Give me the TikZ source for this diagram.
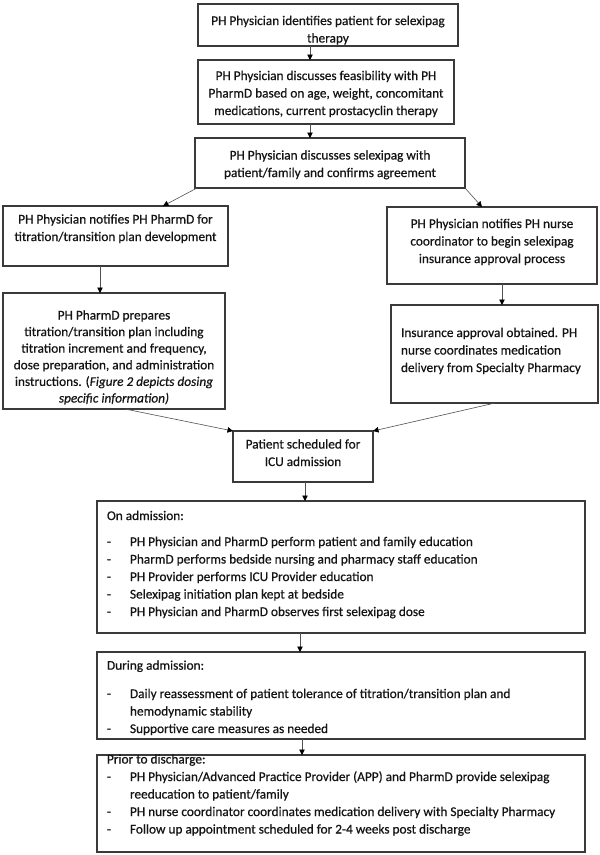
\documentclass[tikz,border=0pt]{standalone}
\usepackage{fontspec}
\setmainfont{Carlito}[FakeBold=0.6]
\usetikzlibrary{arrows.meta}
\definecolor{boxc}{HTML}{3A3A3A}
\definecolor{arrc}{HTML}{505050}
\definecolor{txtc}{HTML}{141414}
\begin{document}
\begin{tikzpicture}[x=1pt,y=-1pt,
  box/.style={draw=boxc, line width=1.1pt, rectangle, inner sep=0pt, outer sep=0pt, anchor=north west},
  txt/.style={inner sep=0pt, outer sep=0pt, text=txtc, font=\fontsize{13.3}{17.5}\selectfont},
  ctxt/.style={txt, align=center, anchor=base},
  ltxt/.style={txt, align=left, anchor=base west},
  arr/.style={draw=arrc, line width=0.6pt, -{Triangle[length=5.5pt,width=5.5pt,color=black]}}]
\useasboundingbox (0,0) rectangle (600,855);

% boxes
\node[box, minimum width=260pt, minimum height=42pt] (b1) at (198,4) {};
\node[box, minimum width=256pt, minimum height=64pt] (b2) at (198,60) {};
\node[box, minimum width=270pt, minimum height=50pt] (b3) at (195,138) {};
\node[box, minimum width=225pt, minimum height=60pt] (l4) at (3,206) {};
\node[box, minimum width=222pt, minimum height=116pt] (l5) at (3,293) {};
\node[box, minimum width=210pt, minimum height=77pt] (r4) at (387,207) {};
\node[box, minimum width=207pt, minimum height=98pt] (r5) at (391,305) {};
\node[box, minimum width=140pt, minimum height=51pt] (p) at (233,431) {};
\node[box, minimum width=488pt, minimum height=132pt] (a) at (97,501) {};
\node[box, minimum width=488pt, minimum height=87pt] (d) at (97,652) {};
\node[box, minimum width=488pt, minimum height=97pt] (pr) at (97,755) {};

% texts (anchored at the baseline of their last line)
\node[ctxt] (t1) at (328,42.5) {PH Physician identifies patient for selexipag\\therapy};
\node[ctxt] (t2) at (326,115) {PH Physician discusses feasibility with PH\\PharmD based on age, weight, concomitant\\medications, current prostacyclin therapy};
\node[ctxt] (t3) at (330,177) {PH Physician discusses selexipag with\\patient/family and confirms agreement};
\node[ctxt] (t4) at (115.5,241) {PH Physician notifies PH PharmD for\\titration/transition plan development};
\node[ctxt, font=\fontsize{13.3}{16.6}\selectfont] (t5) at (114,402.5) {PH PharmD prepares\\titration/transition plan including\\titration increment and frequency,\\dose preparation, and administration\\instructions. (\textit{Figure 2 depicts dosing}\\\textit{specific information)}};
\node[ctxt] (t6) at (492,263) {PH Physician notifies PH nurse\\coordinator to begin selexipag\\insurance approval process};
\node[ltxt] (t7) at (401,372) {Insurance approval obtained. PH\\nurse coordinates medication\\delivery from Specialty Pharmacy};
\node[ctxt] (t8) at (303,466) {Patient scheduled for\\ICU admission};
\node[ltxt] (t9) at (107,616) {On admission:\\[8.5pt]
\makebox[23pt][l]{-}PH Physician and PharmD perform patient and family education\\
\makebox[23pt][l]{-}PharmD performs bedside nursing and pharmacy staff education\\
\makebox[23pt][l]{-}PH Provider performs ICU Provider education\\
\makebox[23pt][l]{-}Selexipag initiation plan kept at bedside\\
\makebox[23pt][l]{-}PH Physician and PharmD observes first selexipag dose};
\node[ltxt] (t10) at (107,733) {During admission:\\[10.8pt]
\makebox[23pt][l]{-}Daily reassessment of patient tolerance of titration/transition plan and\\
\hspace*{23pt}hemodynamic stability\\
\makebox[23pt][l]{-}Supportive care measures as needed};
\node[ltxt] (t11) at (107,833.5) {Prior to discharge:\\
\makebox[23pt][l]{-}PH Physician/Advanced Practice Provider (APP) and PharmD provide selexipag\\
\hspace*{23pt}reeducation to patient/family\\
\makebox[23pt][l]{-}PH nurse coordinator coordinates medication delivery with Specialty Pharmacy\\
\makebox[23pt][l]{-}Follow up appointment scheduled for 2-4 weeks post discharge};

% connectors
\draw[arr] ([xshift=-18pt]b1.south) -- ([xshift=-16pt]b2.north);
\draw[arr] ([xshift=-16pt]b2.south) -- ([xshift=-20pt]b3.north);
\draw[arr] ([xshift=2pt]b3.south west) -- ([xshift=160pt]l4.north west);
\draw[arr] (b3.south east) -- ([xshift=95pt]r4.north west);
\draw[arr] ([xshift=97pt]l4.south west) -- ([xshift=97pt]l5.north west);
\draw[arr] ([xshift=115pt]r4.south west) -- ([xshift=111pt]r5.north west);
\draw[arr] ([xshift=122pt]l5.south west) -- (p.north west);
\draw[arr] ([xshift=104pt]r5.south west) -- (p.north east);
\draw[arr] ([xshift=72pt]p.south west) -- ([xshift=208pt]a.north west);
\draw[arr] ([xshift=203pt]a.south west) -- ([xshift=203pt]d.north west);
\draw[arr] ([xshift=205pt]d.south west) -- ([xshift=205pt]pr.north west);
\end{tikzpicture}
\end{document}
